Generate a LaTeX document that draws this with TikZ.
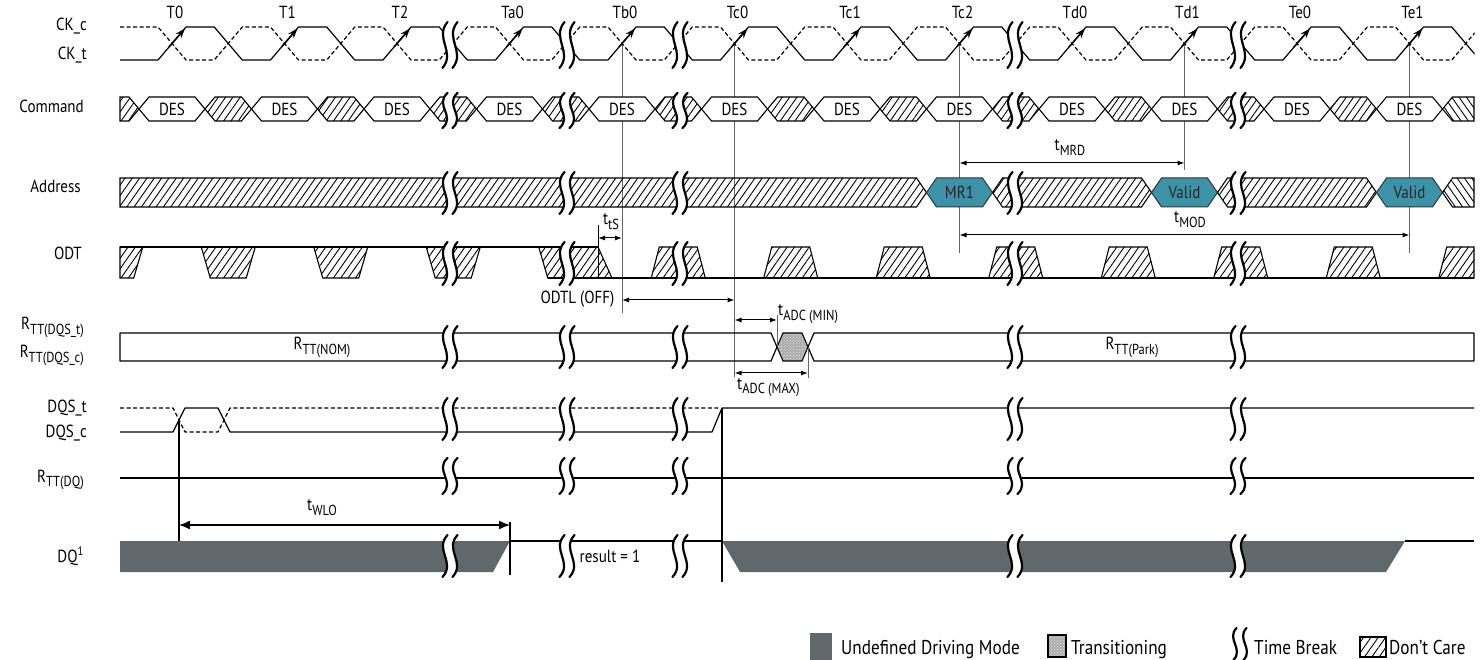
\documentclass[tikz,border=0pt]{standalone}
\usepackage{fontspec}
\setmainfont{PT Sans}[FakeStretch=0.86]
\usetikzlibrary{arrows.meta,patterns,patterns.meta}
\definecolor{dqgray}{RGB}{96,104,107}
\definecolor{mrteal}{RGB}{62,146,168}
\newcommand\sub[1]{\raisebox{-0.55ex}{\fontsize{14.5}{15}\selectfont #1}}
\newcommand\tbrk[3]{%
  \pgfmathsetmacro\bA{#1-5}\pgfmathsetmacro\bB{#1+5}%
  \pgfmathsetmacro\bP{#2+0.35*(#3-#2)}\pgfmathsetmacro\bQ{#2+0.65*(#3-#2)}%
  \fill[white] (\bA+2.5,#2) .. controls (\bA-11,\bP) and (\bA+11,\bQ) .. (\bA-2.5,#3) -- (\bB-2.5,#3) .. controls (\bB+11,\bQ) and (\bB-11,\bP) .. (\bB+2.5,#2) -- cycle;
  \draw[brk] (\bA+2.5,#2) .. controls (\bA-11,\bP) and (\bA+11,\bQ) .. (\bA-2.5,#3);
  \draw[brk] (\bB+2.5,#2) .. controls (\bB-11,\bP) and (\bB+11,\bQ) .. (\bB-2.5,#3);
}
\begin{document}
\begin{tikzpicture}[x=1pt,y=-1pt,font=\fontsize{17.5}{19}\selectfont,
  sig/.style={line width=1.2pt,line join=round},
  dashsig/.style={sig,dash pattern=on 4pt off 2.5pt},
  dc/.style={draw,line width=1.1pt,pattern={Lines[angle=55,distance=6pt,line width=0.9pt]}},
  dcr/.style={draw,line width=1.1pt,pattern={Lines[angle=125,distance=6pt,line width=0.9pt]}},
  bus/.style={draw,line width=1.1pt,fill=white},
  valbox/.style={draw=black!80,line width=1pt,fill=mrteal},
  trans/.style={draw,line width=1.1pt,preaction={fill=gray!65},pattern=crosshatch dots,pattern color=gray!20},
  vmark/.style={draw=black!60,line width=0.9pt},
  dim/.style={{Latex[length=7pt,width=5pt]}-{Latex[length=7pt,width=5pt]},line width=1pt},
  bigdim/.style={{Latex[length=11pt,width=9pt]}-{Latex[length=11pt,width=9pt]},line width=1.4pt},
  brk/.style={line width=2.2pt,line cap=round},
  lbl/.style={anchor=base east,inner sep=0pt}]
\useasboundingbox (0,0) rectangle (1484,660);

% ---------- marker vertical lines (behind buses)
\draw[vmark] (622,43.5) -- (622,313);
\draw[vmark] (734.5,43.5) -- (734.5,377);
\draw[vmark] (959.5,43.5) -- (959.5,253);
\draw[vmark] (1184.5,43.5) -- (1184.5,170);
\draw[vmark] (1409.5,43.5) -- (1409.5,253);

% ---------- clock
\begin{scope}
\clip (119,0) rectangle (1474.5,660);
\draw[sig] (120,60) \foreach \k in {0,...,11}{ -- ({172+112.5*\k-14},60) -- ({172+112.5*\k+14},27) -- ({172+112.5*\k+42.25},27) -- ({172+112.5*\k+70.25},60) };
\draw[dashsig] (120,27) \foreach \k in {0,...,11}{ -- ({172+112.5*\k-14},27) -- ({172+112.5*\k+14},60) -- ({172+112.5*\k+42.25},60) -- ({172+112.5*\k+70.25},27) };
\end{scope}
\foreach \k/\t in {0/T0,1/T1,2/T2,3/Ta0,4/Tb0,5/Tc0,6/Tc1,7/Tc2,8/Td0,9/Td1,10/Te0,11/Te1}{
  \pgfmathsetmacro\cx{172+112.5*\k}
  \draw[-{Stealth[length=10pt,width=7pt]},line width=1.5pt] (\cx-3,47) -- (\cx+13,28.5);
  \node (clk\k) at (\cx+3,12) {\t};
}

% ---------- command
\foreach \k in {0,...,11}{
  \pgfmathsetmacro\cx{172+112.5*\k}
  \draw[bus] (\cx-33,109) -- (\cx-23,97) -- (\cx+23,97) -- (\cx+33,109) -- (\cx+23,121) -- (\cx-23,121) -- cycle;
  \node (des\k) at (\cx,109) {DES};
}
\foreach \k in {0,...,10}{
  \pgfmathsetmacro\cx{172+112.5*\k}
  \draw[dc] (\cx+33,109) -- (\cx+43,97) -- (\cx+69.5,97) -- (\cx+79.5,109) -- (\cx+69.5,121) -- (\cx+43,121) -- cycle;
}
\draw[dc] (120,97) -- (129,97) -- (139,109) -- (129,121) -- (120,121) -- cycle;
\draw[dcr] (1442.5,109) -- (1452.5,97) -- (1474,97) -- (1474,121) -- (1452.5,121) -- cycle;

% ---------- address
\draw[dc] (120,178) -- (916.5,178) -- (926.5,192.5) -- (916.5,207) -- (120,207) -- cycle;
\draw[valbox] (926.5,192.5) -- (936.5,178) -- (982.5,178) -- (992.5,192.5) -- (982.5,207) -- (936.5,207) -- cycle;
\node[text=black!85] (mr1) at (959.5,192.5) {MR1};
\draw[dc] (992.5,192.5) -- (1002.5,178) -- (1141.5,178) -- (1151.5,192.5) -- (1141.5,207) -- (1002.5,207) -- cycle;
\draw[valbox] (1151.5,192.5) -- (1161.5,178) -- (1207.5,178) -- (1217.5,192.5) -- (1207.5,207) -- (1161.5,207) -- cycle;
\node[text=black!85] (val1) at (1184.5,192.5) {Valid};
\draw[dc] (1217.5,192.5) -- (1227.5,178) -- (1366.5,178) -- (1376.5,192.5) -- (1366.5,207) -- (1227.5,207) -- cycle;
\draw[valbox] (1376.5,192.5) -- (1386.5,178) -- (1432.5,178) -- (1442.5,192.5) -- (1432.5,207) -- (1386.5,207) -- cycle;
\node[text=black!85] (val2) at (1409.5,192.5) {Valid};
\draw[dcr] (1442.5,192.5) -- (1452.5,178) -- (1474,178) -- (1474,207) -- (1452.5,207) -- cycle;

% ---------- ODT
\draw[sig] (120,247) -- (598,247);
\draw[dc] (120,247) -- (142.75,247) -- (133.75,278) -- (120,278) -- cycle;
\foreach \m in {228.25,340.75,453.25}{
  \draw[dc] (\m-27,247) -- (\m+27,247) -- (\m+18,278) -- (\m-18,278) -- cycle;
}
\draw[dc] (538.75,247) -- (598,247) -- (612,278) -- (547.75,278) -- cycle;
\draw[line width=1.6pt] (547.75,278) -- (1474,278);
\foreach \m in {678.25,790.75,903.25,1015.75,1128.25,1240.75,1353.25}{
  \draw[dc] (\m-27,278) -- (\m-19,247) -- (\m+19,247) -- (\m+27,278) -- cycle;
}
\draw[dc] (1438.75,278) -- (1446.75,247) -- (1474,247) -- (1474,278) -- cycle;
\draw[line width=1pt] (598,225) -- (598,278);

% ---------- RTT(DQS)
\draw[sig] (120,333) -- (771,333) -- (777,347) -- (771,361) -- (120,361) -- cycle;
\draw[trans] (777,347) -- (783,333) -- (802,333) -- (808,347) -- (802,361) -- (783,361) -- cycle;
\draw[sig] (1474,333) -- (814,333) -- (808,347) -- (814,361) -- (1474,361) -- cycle;
\node (nom) at (322,347) {R\sub{TT(NOM)}};
\node (park) at (1132,347) {R\sub{TT(Park)}};

% ---------- DQS
\draw[sig] (120,432) -- (173,432) -- (185,408) -- (218,408) -- (230,432) -- (712,432) -- (722,408) -- (1474,408);
\draw[dashsig] (120,408) -- (173,408) -- (185,432) -- (218,432) -- (230,408) -- (719,408);

% ---------- RTT(DQ)
\draw[sig] (120,478) -- (1474,478);

% ---------- DQ
\fill[dqgray] (120,541) -- (510,541) -- (493,572) -- (120,572) -- cycle;
\draw[sig] (510,541) -- (722,541);
\fill[dqgray] (722,541) -- (1405,541) -- (1386,572) -- (740,572) -- cycle;
\draw[sig] (1405,541) -- (1474,541);
\node (res) at (610,556) {result = 1};

% ---------- time breaks
\foreach \xb in {450,567,680,1015,1238}{
  \foreach \ya/\yb in {22/68,93/128,172/214,242/285,326/368,398/440,458/494,535/577}{
    \tbrk{\xb}{\ya}{\yb}
  }
}

% ---------- DQ related markers
\draw[sig] (179,420) -- (179,541);
\draw[sig] (510,522) -- (510,575);
\draw[sig] (722,408) -- (722,582);
\draw[bigdim] (179,525) -- (510,525);
\node (twlo) at (322,508) {t\sub{WLO}};

% ---------- timing annotations
\draw[dim] (598,238) -- (622,238);
\node (ttis) at (611,222) {t\sub{tS}};
\draw[dim] (622,300) -- (734.5,300);
\node[anchor=base east] (odtl) at (618,304) {ODTL (OFF)};
\draw[vmark] (777,315) -- (777,347);
\draw[vmark] (808,347) -- (808,378);
\draw[dim] (734.5,320) -- (777,320);
\node[anchor=base west,inner sep=0pt] (adcmin) at (778,316) {t\sub{ADC (MIN)}};
\draw[dim] (734.5,373) -- (808,373);
\node[anchor=base west,inner sep=0pt] (adcmax) at (737,389) {t\sub{ADC (MAX)}};
\draw[dim] (959.5,163) -- (1184.5,163);
\node (tmrd) at (1070,148) {t\sub{MRD}};
\draw[dim] (959.5,235) -- (1409.5,235);
\node (tmod) at (1190,220) {t\sub{MOD}};

% ---------- row labels
\node[lbl] (lckc) at (87,31) {CK\_c};
\node[lbl] (lckt) at (87,60) {CK\_t};
\node[lbl] (lcmd) at (84,113) {Command};
\node[lbl] (ladr) at (81,193) {Address};
\node[lbl] (lodt) at (82,260) {ODT};
\node[lbl] (lrt) at (84,330) {R\sub{TT(DQS\_t)}};
\node[lbl] (lrc) at (84,358) {R\sub{TT(DQS\_c)}};
\node[lbl] (ldqst) at (87,413) {DQS\_t};
\node[lbl] (ldqsc) at (87,437) {DQS\_c};
\node[lbl] (lrdq) at (84,482) {R\sub{TT(DQ)}};
\node[lbl] (ldq) at (84,562) {DQ\textsuperscript{1}};

% ---------- legend
\begin{scope}[font=\fontsize{20}{22}\selectfont]
\fill[dqgray] (810,633) rectangle (832,660);
\node[anchor=base west,inner sep=0pt] (lg1) at (841,654) {Undefined Driving Mode};
\draw[trans] (1048,635) rectangle (1066,657);
\node[anchor=base west,inner sep=0pt] (lg2) at (1071,654) {Transitioning};
\draw[brk] (1236.5,628) .. controls (1226,639) and (1244,649) .. (1233.5,660);
\draw[brk] (1246.5,628) .. controls (1236,639) and (1254,649) .. (1243.5,660);
\node[anchor=base west,inner sep=0pt] (lg3) at (1254,654) {Time Break};
\draw[dc] (1360,637) rectangle (1386,657);
\node[anchor=base west,inner sep=0pt] (lg4) at (1389,654) {Don't Care};
\end{scope}
\end{tikzpicture}
\end{document}
